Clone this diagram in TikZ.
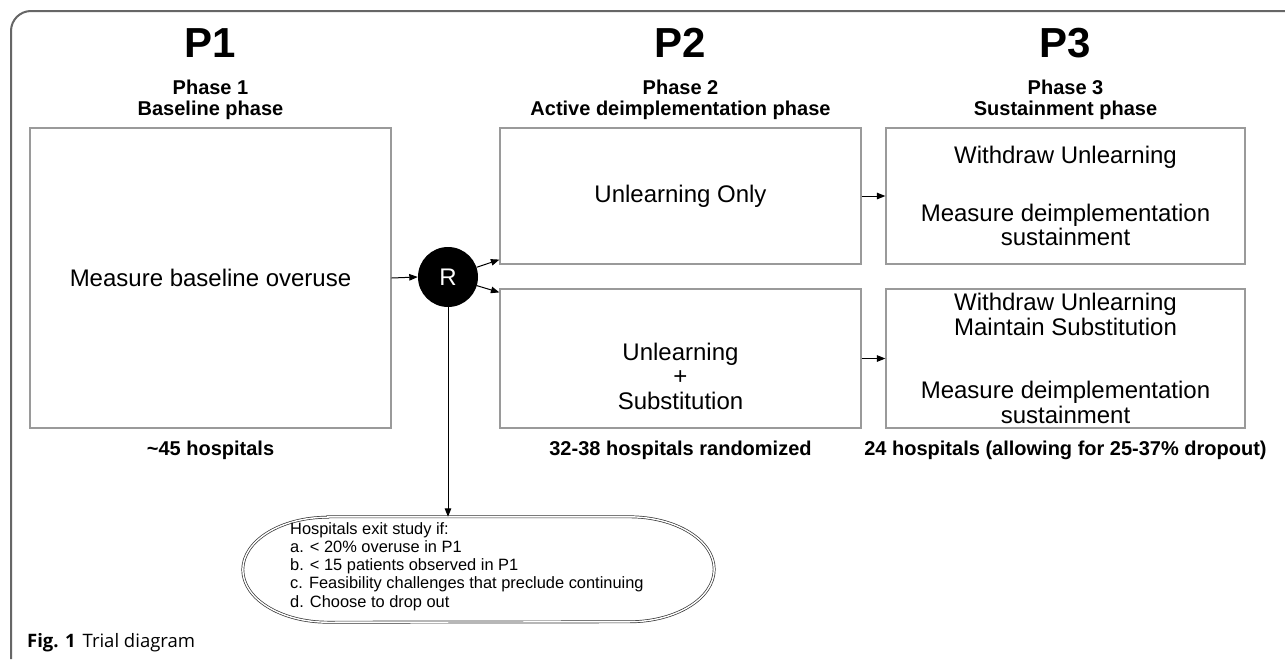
\documentclass[tikz,border=0pt]{standalone}
\usepackage{fontspec}
\setmainfont{Liberation Sans}
\newfontfamily\capfont{Open Sans}
\usetikzlibrary{arrows.meta,calc}
\definecolor{boxgray}{HTML}{9A9A9A}
\definecolor{framegray}{HTML}{666666}
\definecolor{ovalgray}{HTML}{333333}
\begin{document}
\begin{tikzpicture}[x=1pt,y=1pt,
  box/.style={draw=boxgray, line width=1.2pt, rectangle, inner sep=0pt},
  arr/.style={-{Triangle[length=8.5pt,width=6.5pt]}, line width=1pt, black},
  big/.style={font=\bfseries\fontsize{42}{44}\selectfont},
  head/.style={font=\bfseries\fontsize{20}{21}\selectfont, align=center},
  body/.style={font=\fontsize{24}{24.5}\selectfont, align=center},
]
\useasboundingbox (0,0) rectangle (1285,-659);
\fill[white] (0,0) rectangle (1285,-659);

% outer frame
\draw[framegray, line width=2pt] (11,-659) -- (11,-31) arc[start angle=180, end angle=90, radius=20] -- (1285,-11);

% headers
\node[big, anchor=base] (h1) at (210.5,-57) {P1};
\node[head, anchor=base] (h1a) at (210.5,-94) {Phase 1};
\node[head, anchor=base] (h1b) at (210.5,-115) {Baseline phase};
\node[big, anchor=base] (h2) at (680.5,-57) {P2};
\node[head, anchor=base] (h2a) at (680.5,-94) {Phase 2};
\node[head, anchor=base] (h2b) at (680.5,-115) {Active deimplementation phase};
\node[big, anchor=base] (h3) at (1065.5,-57) {P3};
\node[head, anchor=base] (h3a) at (1065.5,-94) {Phase 3};
\node[head, anchor=base] (h3b) at (1065.5,-115) {Sustainment phase};

% boxes
\node[box, body, minimum width=361pt, minimum height=300pt] (p1) at (210.5,-278) {Measure baseline overuse};
\node[box, body, minimum width=361pt, minimum height=136pt] (u1) at (680.5,-196) {Unlearning Only};
\node[box, minimum width=361pt, minimum height=139pt] (u2) at (680.5,-358.5) {};
\node[body] (u2t) at (680.5,-376) {Unlearning\\+\\Substitution};
\node[box, body, minimum width=359pt, minimum height=136pt] (w1) at (1065.5,-196) {Withdraw Unlearning\\[33pt]Measure deimplementation\\sustainment};
\node[box, body, minimum width=359pt, minimum height=139pt] (w2) at (1065.5,-358.5) {Withdraw Unlearning\\Maintain Substitution\\[39pt]Measure deimplementation\\sustainment};

% bottom labels
\node[head, anchor=base] (b1) at (210.5,-455) {\textasciitilde45 hospitals};
\node[head, anchor=base] (b2) at (680.5,-455) {32-38 hospitals randomized};
\node[head, anchor=base] (b3) at (1065.5,-455) {24 hospitals (allowing for 25-37\% dropout)};

% randomisation
\node[circle, fill=black, minimum size=60pt, inner sep=0pt, text=white, font=\fontsize{24}{24}\selectfont] (R) at (448,-277) {R};

% exit oval
\node[minimum width=471pt, minimum height=105pt, inner sep=0pt] (ex) at (478.5,-569.5) {};
\draw[draw=ovalgray, line width=0.7pt, double=white, double distance=1.4pt]
  ($(ex.north west)+(85,0)$) -- ($(ex.north east)+(-85,0)$)
  arc[start angle=90, end angle=-90, x radius=85, y radius=52.5]
  -- ($(ex.south west)+(85,0)$)
  arc[start angle=270, end angle=90, x radius=85, y radius=52.5] -- cycle;
\node[anchor=north west, align=left, inner sep=0pt, font=\fontsize{16.4}{18.3}\selectfont] (ext) at (290,-522)
  {Hospitals exit study if:\\a. < 20\% overuse in P1\\b. < 15 patients observed in P1\\c. Feasibility challenges that preclude continuing\\d. Choose to drop out};

% connectors
\coordinate (t1) at ($(u1.south west)+(0,5)$);
\coordinate (t2) at ($(u2.north west)+(0,-4)$);
\draw[arr] (p1.east) -- (R.west);
\draw[arr] (R) -- (t1);
\draw[arr] (R) -- (t2);
\draw[arr] (u1.east) -- (w1.west);
\draw[arr] (u2.east) -- (w2.west);
\draw[arr] (R.south) -- (R.south |- ex.north);

% caption
\node[anchor=base west, inner sep=0pt, font=\capfont\fontsize{18.5}{19}\selectfont] (cap) at (27,-647) {\textbf{Fig. 1}\hspace{7pt}Trial diagram};
\end{tikzpicture}
\end{document}
